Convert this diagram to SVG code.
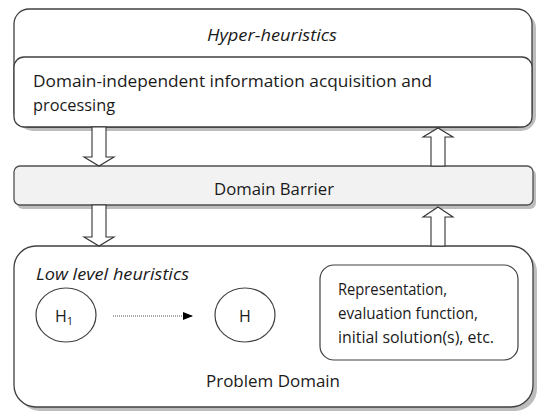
<svg xmlns="http://www.w3.org/2000/svg" width="540" height="416" viewBox="0 0 540 416">
<style>
.box{fill:#ffffff;stroke:#404040;stroke-width:1.3}
.shadow{fill:#bdbdbd;stroke:none}
.barrier{fill:#f2f2f2;stroke:#505050;stroke-width:1.3}
.blk{fill:#ffffff;stroke:#333333;stroke-width:1.1}
.t{font-family:"Open Sans","Noto Sans","Liberation Sans",sans-serif;font-size:16px;fill:#1a1a1a}
.it{font-style:italic}
.node{fill:#ffffff;stroke:#404040;stroke-width:1.2}
</style>
<defs>
<marker id="tri" viewBox="0 0 10 8" refX="10" refY="4" markerWidth="10" markerHeight="8" markerUnits="userSpaceOnUse" orient="auto">
<path d="M0,0 L10,4 L0,8 Z" fill="#000000"/>
</marker>
</defs>
<rect width="540" height="416" fill="#ffffff"/>

<g id="hyper-heuristics">
<rect class="shadow" x="18" y="13" width="518" height="118" rx="15"/>
<rect class="box" x="14" y="9" width="518" height="118" rx="15"/>
<text class="t it" x="272" y="41" text-anchor="middle" textLength="130" lengthAdjust="spacingAndGlyphs">Hyper-heuristics</text>
</g>
<g id="domain-independent">
<rect class="box" x="14" y="57" width="518" height="70" rx="10"/>
<text class="t" x="33" y="87" textLength="399" lengthAdjust="spacingAndGlyphs">Domain-independent information acquisition and</text>
<text class="t" x="33" y="111" textLength="82" lengthAdjust="spacingAndGlyphs">processing</text>
</g>

<g id="domain-barrier">
<rect class="shadow" x="17" y="169" width="519" height="40" rx="6"/>
<rect class="barrier" x="14" y="166" width="519" height="39" rx="6"/>
<text class="t" x="274" y="195" text-anchor="middle" textLength="120" lengthAdjust="spacingAndGlyphs">Domain Barrier</text>
</g>

<g id="problem-domain">
<rect class="shadow" x="18" y="250" width="519" height="161" rx="22"/>
<rect class="box" x="14" y="246" width="519" height="161" rx="22"/>
<text class="t it" x="36" y="280" textLength="153" lengthAdjust="spacingAndGlyphs">Low level heuristics</text>
<text class="t" x="206" y="387" textLength="134" lengthAdjust="spacingAndGlyphs">Problem Domain</text>
</g>

<g id="h1">
<ellipse class="node" cx="66" cy="315" rx="30" ry="27"/>
<text class="t" x="55" y="322">H<tspan font-size="11" dy="3">1</tspan></text>
</g>
<g id="h">
<ellipse class="node" cx="245" cy="315" rx="30" ry="27"/>
<text class="t" x="245" y="322" text-anchor="middle">H</text>
</g>

<g id="domain-info">
<rect class="node" x="320" y="265" width="198" height="95" rx="14"/>
<text class="t" x="338" y="295" textLength="109" lengthAdjust="spacingAndGlyphs">Representation,</text>
<text class="t" x="338" y="319" textLength="140" lengthAdjust="spacingAndGlyphs">evaluation function,</text>
<text class="t" x="338" y="343" textLength="156" lengthAdjust="spacingAndGlyphs">initial solution(s), etc.</text>
</g>

<g id="connectors">
<path class="blk" d="M92,127 L106,127 L106,157 L114,157 L99,166 L84,157 L92,157 Z"/>
<path class="blk" d="M92,205 L106,205 L106,237 L114,237 L99,246 L84,237 L92,237 Z"/>
<path class="blk" d="M431,166 L431,137 L423,137 L438,128 L453,137 L445,137 L445,166 Z"/>
<path class="blk" d="M431,246 L431,217 L423,217 L438,207 L453,217 L445,217 L445,246 Z"/>
<line x1="113" y1="316" x2="193" y2="316" stroke="#555555" stroke-width="1" stroke-dasharray="1,1" marker-end="url(#tri)"/>
</g>
</svg>
